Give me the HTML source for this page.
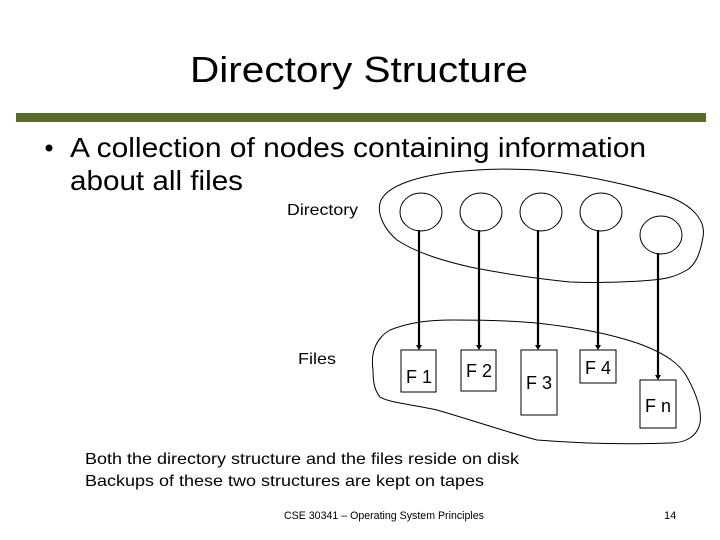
<!DOCTYPE html>
<html><head><meta charset="utf-8"><style>
html,body{margin:0;padding:0;background:#fff}
svg{display:block}
</style></head><body>
<svg width="720" height="540" viewBox="0 0 720 540" xmlns="http://www.w3.org/2000/svg" font-family="Liberation Sans, sans-serif">
<rect width="720" height="540" fill="#fff"/>
<text x="190" y="82" font-size="36" textLength="338" lengthAdjust="spacingAndGlyphs">Directory Structure</text>
<rect x="16" y="113" width="690" height="9" fill="#5a6b2e"/>
<circle cx="49" cy="148" r="3.5" fill="#000"/>
<text x="70" y="157" font-size="28" textLength="576" lengthAdjust="spacingAndGlyphs">A collection of nodes containing information</text>
<text x="70" y="190" font-size="28" textLength="173" lengthAdjust="spacingAndGlyphs">about all files</text>
<text x="287" y="215" font-size="16" textLength="71" lengthAdjust="spacingAndGlyphs">Directory</text>
<text x="298" y="364" font-size="16" textLength="38" lengthAdjust="spacingAndGlyphs">Files</text>
<g fill="none" stroke="#000" stroke-width="1">
<path d="M380,203 C385,185 420,176 453,172 C490,168 515,169 537,170 C590,175 640,188 670,197 C695,207 706,222 703,237 C700,255 695,265 687,270 C675,277 665,279 653,280 C620,283 595,283 570,282 C530,278 500,273 470,267 C440,260 415,252 397,240 C385,230 377,215 380,203 Z"/>
<path d="M373,370 C370,350 378,337 390,330 C410,322 430,320 453,320 C490,320 515,321 537,323 C580,328 610,334 637,343 C665,353 680,364 687,377 C697,395 702,410 700,423 C697,437 685,443 670,443 C620,445 575,443 537,440 C500,430 465,418 437,410 C410,404 390,403 380,397 C374,390 373,380 373,370 Z"/>
<ellipse cx="421" cy="212" rx="21" ry="19"/>
<ellipse cx="481" cy="212" rx="21" ry="19"/>
<ellipse cx="541" cy="212" rx="21" ry="19"/>
<ellipse cx="601" cy="212" rx="21" ry="19"/>
<ellipse cx="661" cy="235" rx="21" ry="19"/>
<rect x="401" y="350" width="35" height="42"/>
<rect x="461" y="350" width="35" height="41"/>
<rect x="521" y="350" width="36" height="65"/>
<rect x="580" y="350" width="36" height="33"/>
<rect x="640" y="380" width="36" height="48"/>
</g>
<g stroke="#000" stroke-width="2.2">
<line x1="419" y1="230" x2="419" y2="346"/>
<line x1="479" y1="230" x2="479" y2="346"/>
<line x1="538" y1="230" x2="538" y2="346"/>
<line x1="598" y1="230" x2="598" y2="346"/>
<line x1="658" y1="253" x2="658" y2="376"/>
</g>
<g fill="#000">
<path d="M416,345 L422,345 L419,350 Z"/>
<path d="M476,345 L482,345 L479,350 Z"/>
<path d="M535,345 L541,345 L538,350 Z"/>
<path d="M595,345 L601,345 L598,350 Z"/>
<path d="M655,375 L661,375 L658,380 Z"/>
</g>
<g font-size="18">
<text x="406" y="383">F 1</text>
<text x="466" y="377">F 2</text>
<text x="526" y="389">F 3</text>
<text x="585" y="374">F 4</text>
<text x="645" y="412">F n</text>
</g>
<text x="85" y="464" font-size="16" textLength="434" lengthAdjust="spacingAndGlyphs">Both the directory structure and the files reside on disk</text>
<text x="85" y="486" font-size="16" textLength="399" lengthAdjust="spacingAndGlyphs">Backups of these two structures are kept on tapes</text>
<text x="284" y="519" font-size="11" textLength="200" lengthAdjust="spacingAndGlyphs">CSE 30341 – Operating System Principles</text>
<text x="664" y="519" font-size="11">14</text>
</svg>
</body></html>
